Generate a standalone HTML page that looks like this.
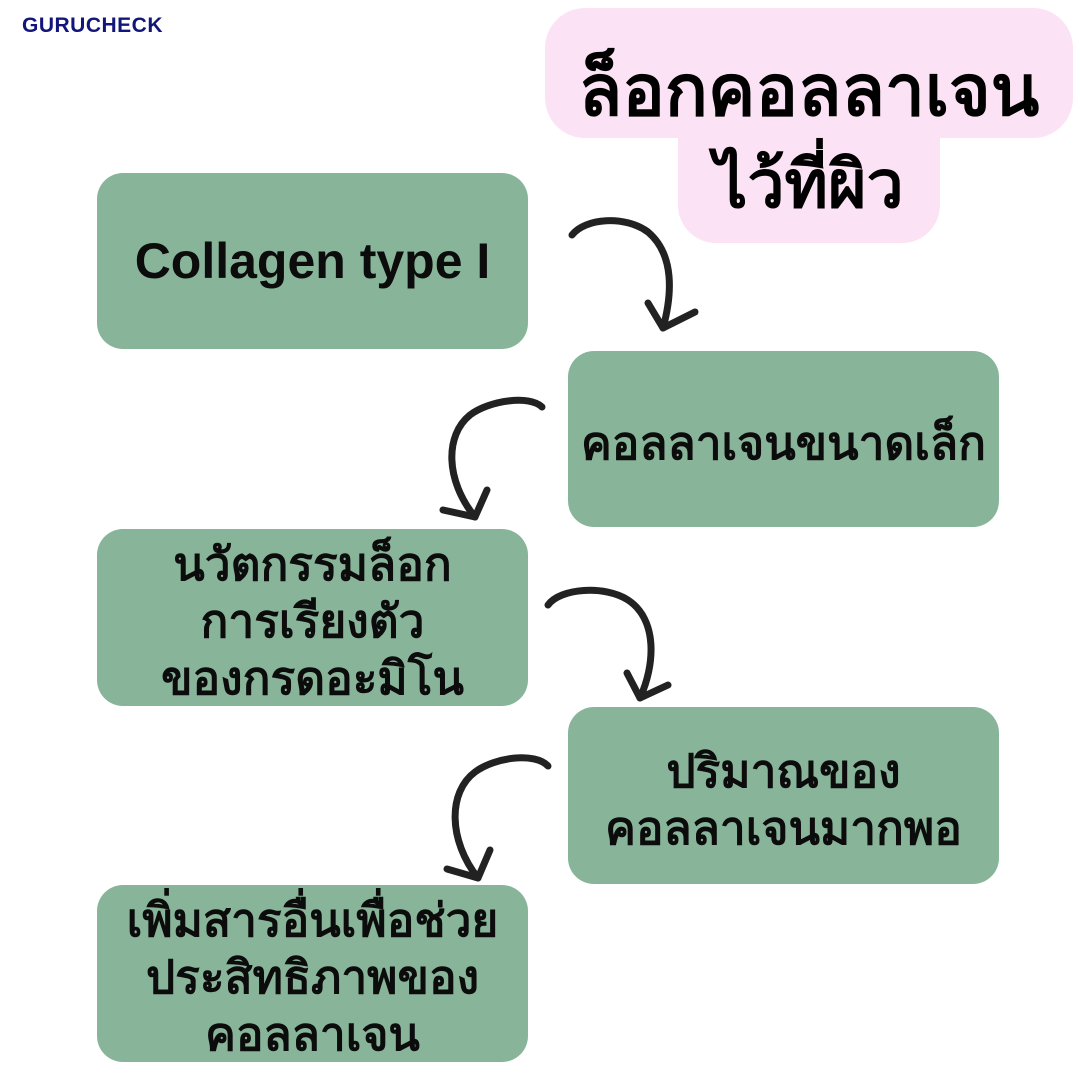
<!DOCTYPE html>
<html><head><meta charset="utf-8"><style>
body{margin:0;width:1080px;height:1080px;background:#fff;position:relative;overflow:hidden;font-family:"Liberation Sans","Noto Sans CJK SC",sans-serif}
.b{position:absolute;background:#88b59a;border-radius:26px;display:flex;align-items:center;justify-content:center;text-align:center;font-weight:bold;color:#0c0c0c;font-size:46px;line-height:57px;box-sizing:border-box;padding-top:8px}
.p{position:absolute;background:#fbe2f4}
</style></head><body>
<div style="position:absolute;left:22px;top:14px;font-size:21px;font-weight:bold;color:#12167a;letter-spacing:0.5px">GURUCHECK</div>
<div class="p" style="left:545px;top:8px;width:528px;height:130px;border-radius:40px"></div>
<div class="p" style="left:678px;top:100px;width:262px;height:143px;border-radius:38px"></div>
<div style="position:absolute;left:535px;top:52px;width:548px;text-align:center;font-size:71px;font-weight:bold;line-height:80px">ล็อกคอลลาเจน</div>
<div style="position:absolute;left:668px;top:144px;width:282px;text-align:center;font-size:66px;font-weight:bold;line-height:80px">ไว้ที่ผิว</div>
<div class="b" style="left:97px;top:173px;width:431px;height:176px;font-size:50px;padding-top:0">Collagen type I</div>
<div class="b" style="left:568px;top:351px;width:431px;height:176px">คอลลาเจนขนาดเล็ก</div>
<div class="b" style="left:97px;top:529px;width:431px;height:177px">นวัตกรรมล็อก<br>การเรียงตัว<br>ของกรดอะมิโน</div>
<div class="b" style="left:568px;top:707px;width:431px;height:177px">ปริมาณของ<br>คอลลาเจนมากพอ</div>
<div class="b" style="left:97px;top:885px;width:431px;height:177px">เพิ่มสารอื่นเพื่อช่วย<br>ประสิทธิภาพของ<br>คอลลาเจน</div>
<svg width="1080" height="1080" style="position:absolute;left:0;top:0" fill="none" stroke="#222" stroke-width="7" stroke-linecap="round" stroke-linejoin="round">
<path d="M572 235 C585 218 625 215 648 232 C675 255 672 295 663 328"/>
<path d="M648 303 L663 328 L695 312"/>
<path d="M542 407 C530 395 490 400 470 415 C445 435 445 480 475 517"/>
<path d="M443 510 L475 517 L487 490"/>
<path d="M548 605 C560 588 605 585 628 600 C658 620 655 665 640 698"/>
<path d="M627 673 L640 698 L668 685"/>
<path d="M548 766 C535 752 495 757 475 772 C448 792 448 840 478 878"/>
<path d="M447 869 L478 878 L490 850"/>
</svg>
</body></html>
